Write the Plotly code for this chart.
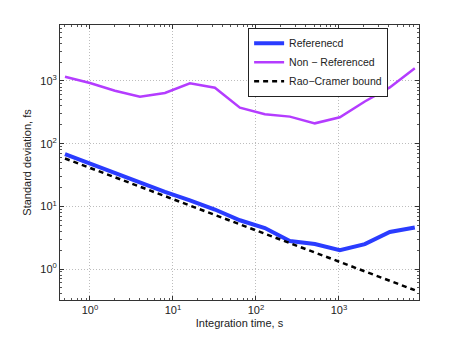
import plotly.graph_objects as go

time_s = [0.5, 1, 2, 4, 8, 16, 32, 64, 128, 256, 512, 1024, 2048, 4096, 8192]
referenced = [68, 48, 34, 24, 17, 12.5, 8.9, 6.0, 4.5, 2.8, 2.5, 2.0, 2.5, 3.9, 4.6]
non_referenced = [1170, 930, 700, 560, 645, 920, 780, 375, 294, 270, 211, 263, 470, 790, 1600]
rao_cramer = [58, 41, 29, 20.5, 14.5, 10.3, 7.3, 5.1, 3.6, 2.6, 1.8, 1.3, 0.91, 0.64, 0.46]

x_tickvals = [1, 10, 100, 1000]
x_ticktext = ["10<sup>0</sup>", "10<sup>1</sup>", "10<sup>2</sup>", "10<sup>3</sup>"]
y_tickvals = [1, 10, 100, 1000]
y_ticktext = ["10<sup>0</sup>", "10<sup>1</sup>", "10<sup>2</sup>", "10<sup>3</sup>"]
minor_vals = [m * 10 ** k for k in range(-1, 5) for m in range(2, 10)]

fig = go.Figure()
fig.add_trace(go.Scatter(x=time_s, y=referenced, mode="lines", name="Referenecd",
                         line=dict(color="#2a3cff", width=4)))
fig.add_trace(go.Scatter(x=time_s, y=non_referenced, mode="lines", name="Non \u2212 Referenced",
                         line=dict(color="#b43cff", width=2.5)))
fig.add_trace(go.Scatter(x=time_s, y=rao_cramer, mode="lines", name="Rao\u2212Cramer bound",
                         line=dict(color="black", width=2.5, dash="5px,4px")))

axis_common = dict(
    type="log", showline=True, linecolor="#333333", linewidth=1, mirror="ticks",
    ticks="inside", ticklen=4, tickcolor="#333333",
    showgrid=True, gridcolor="#bdbdbd", griddash="1px,2px", gridwidth=1,
    zeroline=False, automargin=False,
    minor=dict(ticks="inside", ticklen=2, tickcolor="#555555", showgrid=False,
               tickmode="array", tickvals=minor_vals),
    tickfont=dict(size=11, color="#222222"),
)

fig.update_xaxes(range=[-0.361, 3.964], tickvals=x_tickvals, ticktext=x_ticktext,
                 title=dict(text="Integration time, s", font=dict(size=11, color="#222222"), standoff=4),
                 **axis_common)
fig.update_yaxes(range=[-0.494, 3.893], tickvals=y_tickvals, ticktext=y_ticktext,
                 title=dict(text="Standard deviation, fs", font=dict(size=11, color="#222222"), standoff=6),
                 **axis_common)

fig.update_layout(
    width=455, height=330,
    margin=dict(l=52, r=44, t=17, b=38),
    paper_bgcolor="white", plot_bgcolor="white",
    font=dict(family="Liberation Sans, Arial, sans-serif", size=11, color="#222222"),
    legend=dict(x=0.524, y=0.99, xanchor="left", yanchor="top",
                bgcolor="white", bordercolor="#222222", borderwidth=1,
                font=dict(size=10.5), tracegroupgap=0, itemwidth=30),
    showlegend=True,
)

fig.write_html("out.html")
